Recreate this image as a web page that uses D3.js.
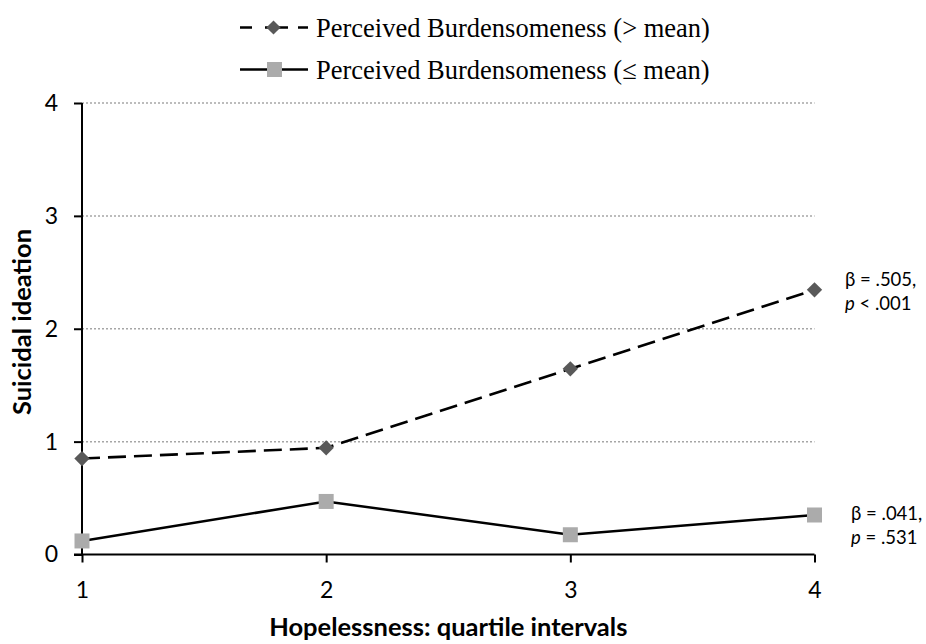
<!DOCTYPE html>
<html><head><meta charset="utf-8">
<script src="https://cdn.jsdelivr.net/npm/d3@7"></script>
<style>body{margin:0;background:#fff}</style>
</head><body>
<svg id="chart" width="926" height="644"></svg>
<script>
const categories = [1, 2, 3, 4];
const highPB = [0.85, 0.945, 1.645, 2.345];
const lowPB = [0.12, 0.47, 0.175, 0.35];
const yTicks = [0, 1, 2, 3, 4];
const seriesNames = ["Perceived Burdensomeness (> mean)", "Perceived Burdensomeness (\u2264 mean)"];
const xTitle = "Hopelessness: quartile intervals";
const yTitle = "Suicidal ideation";

const svg = d3.select("#chart");
const x = d3.scaleLinear().domain([1, 4]).range([82, 814.5]);
const y = d3.scaleLinear().domain([0, 4]).range([554.5, 103]);
const sansFont = "Lato, 'Open Sans', sans-serif";

// gridlines
svg.append("g").selectAll("line").data(yTicks.filter(d => d > 0)).join("line")
  .attr("x1", x(1)).attr("x2", x(4)).attr("y1", d => y(d)).attr("y2", d => y(d))
  .attr("stroke", "#a6a6a6").attr("stroke-width", 1.5).attr("stroke-dasharray", "2,2");

// axes
const yAxis = svg.append("g").attr("transform", `translate(${x(1)},0)`)
  .call(d3.axisLeft(y).tickValues(yTicks).tickSize(8).tickPadding(16).tickFormat(d3.format("d")));
const xAxis = svg.append("g").attr("transform", `translate(0,${y(0)})`)
  .call(d3.axisBottom(x).tickValues(categories).tickSize(8).tickPadding(19).tickFormat(d3.format("d")));
[yAxis, xAxis].forEach(a => {
  a.attr("font-size", null).attr("font-family", null);
  a.select(".domain").attr("stroke", "#000").attr("stroke-width", 2);
  a.selectAll(".tick line").attr("stroke", "#000").attr("stroke-width", 2);
  a.selectAll(".tick text").attr("fill", "#000").style("font-family", sansFont).style("font-size", "23px");
});
yAxis.select(".domain").attr("d", `M0,${y(4)}V${y(0)}`);
yAxis.selectAll(".tick line").attr("x1", 0);
xAxis.select(".domain").attr("d", `M${x(1) - 8},0H${x(4)}`);

// lines
const line = d3.line().x((d, i) => x(categories[i])).y(d => y(d));
svg.append("path").datum(highPB).attr("d", line).attr("fill", "none")
  .attr("stroke", "#000").attr("stroke-width", 2.6).attr("stroke-dasharray", "18,8");
svg.append("path").datum(lowPB).attr("d", line).attr("fill", "none")
  .attr("stroke", "#000").attr("stroke-width", 2.5);

// markers
const diamond = d3.symbol().type(d3.symbolSquare).size(118);
svg.append("g").selectAll("path").data(highPB).join("path")
  .attr("d", diamond).attr("transform", (d, i) => `translate(${x(categories[i])},${y(d)}) rotate(45)`)
  .attr("fill", "#595959");
svg.append("g").selectAll("rect").data(lowPB).join("rect")
  .attr("x", (d, i) => x(categories[i]) - 7.5).attr("y", d => y(d) - 7.5)
  .attr("width", 15).attr("height", 15).attr("fill", "#ababab");

// legend
const lg = svg.append("g");
const rows = [27.5, 69.5];
lg.append("line").attr("x1", 240).attr("x2", 308).attr("y1", rows[0]).attr("y2", rows[0])
  .attr("stroke", "#000").attr("stroke-width", 2.5).attr("stroke-dasharray", "12,13,23,10,10");
lg.append("path").attr("d", d3.symbol().type(d3.symbolSquare).size(100))
  .attr("transform", `translate(273.5,${rows[0]}) rotate(45)`).attr("fill", "#595959");
lg.append("line").attr("x1", 240).attr("x2", 308).attr("y1", rows[1]).attr("y2", rows[1])
  .attr("stroke", "#000").attr("stroke-width", 2.5);
lg.append("rect").attr("x", 267).attr("y", rows[1] - 7.5).attr("width", 15).attr("height", 15).attr("fill", "#ababab");
lg.selectAll("text").data(seriesNames).join("text")
  .attr("x", 316).attr("y", (d, i) => rows[i]).attr("dy", "0.35em")
  .style("font-family", "'Liberation Serif', 'Times New Roman', serif").style("font-size", "26.5px")
  .text(d => d);

// axis titles
svg.append("text").attr("x", x(2.5)).attr("y", 636).attr("text-anchor", "middle")
  .style("font-family", sansFont).style("font-weight", "bold").style("font-size", "25.5px").text(xTitle);
svg.append("text").attr("transform", `translate(31,322) rotate(-90)`).attr("text-anchor", "middle")
  .style("font-family", sansFont).style("font-weight", "bold").style("font-size", "25.5px").text(yTitle);

// annotations
const ann = svg.append("g").style("font-family", sansFont).style("font-size", "18.5px").attr("fill", "#000");
function annot(xp, yp, beta, pOp, pVal) {
  ann.append("text").attr("x", xp).attr("y", yp).text(`\u03b2 = ${beta},`);
  const t = ann.append("text").attr("x", xp).attr("y", yp + 24);
  t.append("tspan").style("font-style", "italic").text("p");
  t.append("tspan").text(` ${pOp} ${pVal}`);
}
annot(845, 286, ".505", "<", ".001");
annot(851, 520, ".041", "=", ".531");
</script>
</body></html>
